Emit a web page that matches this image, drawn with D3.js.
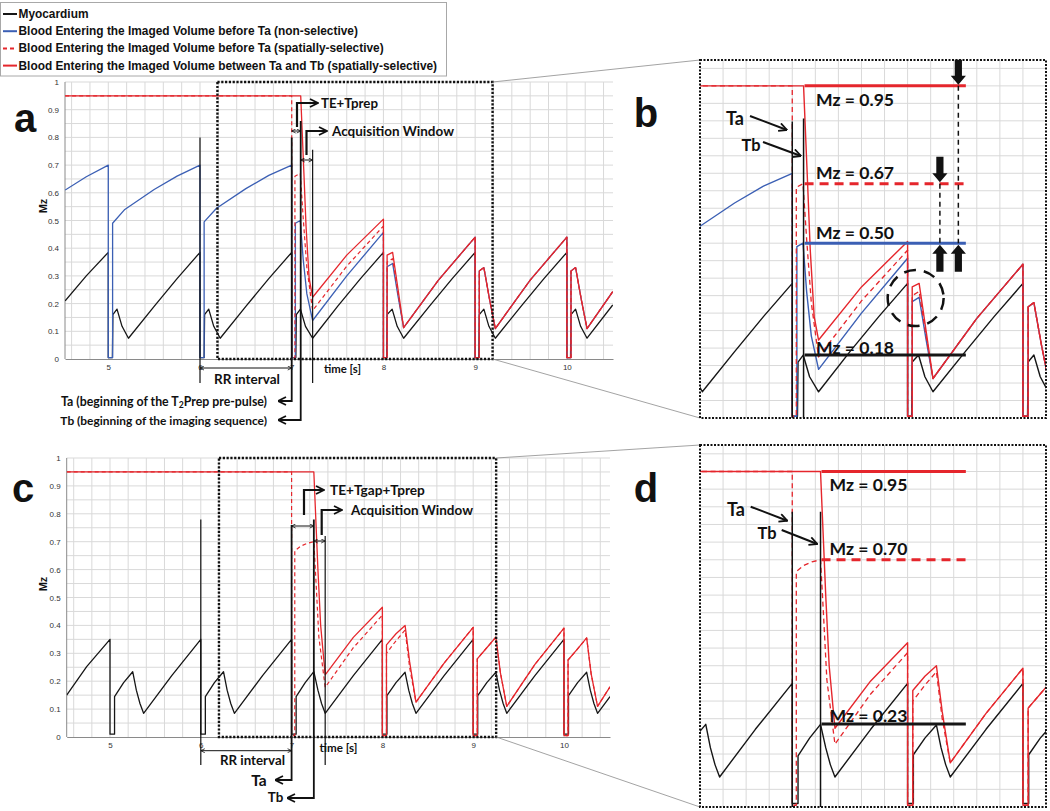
<!DOCTYPE html>
<html><head><meta charset="utf-8">
<script src="https://cdn.jsdelivr.net/npm/d3@7"></script>
<style>body{margin:0;background:#fff}svg{display:block}</style>
</head><body>
<svg id="chart" width="1050" height="811"></svg>
<script>
// ================= DATA =================
const legendLabels = [
  'Myocardium',
  'Blood Entering the Imaged Volume before Ta (non-selective)',
  'Blood Entering the Imaged Volume before Ta (spatially-selective)',
  'Blood Entering the Imaged Volume between Ta and Tb (spatially-selective)'
];
const yTickValues = [0,0.1,0.2,0.3,0.4,0.5,0.6,0.7,0.8,0.9,1];
const xTickValues = [5,6,7,8,9,10];

// ---- panel a (T2Prep, no gap) : [time s, Mz]
const aMyocardium = [
 [4.53,0.21],[4.76,0.30],[5.0,0.385],[5.0,0.005],[5.045,0.005],[5.05,0.16],[5.095,0.18],[5.15,0.118],[5.22,0.075],[5.5,0.19],[5.75,0.29],[6.0,0.385],
 [6.0,0.005],[6.045,0.005],[6.05,0.16],[6.095,0.18],[6.15,0.118],[6.22,0.075],[6.5,0.19],[6.75,0.29],[7.0,0.385],
 [7.0,0.005],[7.045,0.005],[7.05,0.16],[7.095,0.18],[7.15,0.118],[7.228,0.075],[7.5,0.19],[7.75,0.29],[8.0,0.385],
 [8.0,0.005],[8.035,0.005],[8.04,0.16],[8.095,0.18],[8.15,0.118],[8.22,0.075],[8.5,0.19],[8.75,0.29],[9.0,0.385],
 [9.0,0.005],[9.04,0.005],[9.045,0.16],[9.095,0.18],[9.15,0.118],[9.22,0.075],[9.5,0.19],[9.75,0.29],[10.0,0.385],
 [10.0,0.005],[10.04,0.005],[10.045,0.16],[10.095,0.18],[10.15,0.118],[10.22,0.075],[10.5,0.195]
];
const aBloodLate = [
 [8.6,0.285],[9.0,0.44],[9.0,0.005],[9.045,0.005],[9.045,0.318],[9.095,0.33],[9.16,0.21],[9.22,0.11],[9.6,0.285],[10.0,0.44],
 [10.0,0.005],[10.045,0.005],[10.045,0.318],[10.095,0.33],[10.16,0.21],[10.22,0.11],[10.5,0.243]
];
const aBloodNonSel = [
 [4.53,0.61],[4.76,0.658],[5.0,0.70],[5.0,0.005],[5.047,0.005],[5.047,0.49],[5.18,0.54],[5.5,0.612],[5.75,0.66],[6.0,0.70],
 [6.0,0.005],[6.045,0.005],[6.045,0.495],[6.18,0.544],[6.5,0.615],[6.75,0.663],[7.0,0.70],
 [7.0,0.005],[7.04,0.005],[7.04,0.49],[7.093,0.50],[7.125,0.36],[7.165,0.235],[7.228,0.139],[7.6,0.30],[8.0,0.457],
 [8.0,0.005],[8.04,0.005],[8.04,0.333],[8.1,0.345],[8.16,0.225],[8.22,0.113]
];
const aBloodSelBefore = [
 [4.53,0.95],[7.0,0.95],[7.0,0.005],[7.035,0.005],[7.035,0.66],[7.093,0.67],[7.125,0.51],[7.165,0.33],[7.228,0.175],[7.6,0.335],[8.0,0.48],
 [8.0,0.005],[8.04,0.005],[8.04,0.35],[8.1,0.362],[8.16,0.235],[8.22,0.113]
];
const aBloodSelBetween = [
 [4.53,0.95],[7.098,0.95],[7.133,0.67],[7.156,0.48],[7.19,0.29],[7.228,0.223],[7.6,0.375],[8.0,0.505],
 [8.0,0.005],[8.04,0.005],[8.04,0.375],[8.1,0.385],[8.16,0.25],[8.22,0.113]
];
// events: RR start, Ta, Tb, end of acquisition
const aEventTimes = [6.0, 7.0, 7.098, 7.228];
const aEventTops  = [0.80, 0.80, 0.83, 0.755];
const bEventTops  = [0.848, 0.857];
const aZoomWindow = [6.19, 9.19];
const bLevels = [0.95, 0.67, 0.50, 0.18];
const bLevelLabels = ['Mz = 0.95','Mz = 0.67','Mz = 0.50','Mz = 0.18'];
const bLevelEnd = 8.505;
const bArrowTimes = [8.28, 8.44];
const bCircle = [8.07, 0.343];

// ---- panel c (T2Prep with gap)
const cMyocardium = [
 [4.523,0.15],[4.743,0.252],[5.0,0.35],[5.0,0.01],[5.05,0.01],[5.05,0.145],[5.15,0.195],[5.25,0.234],[5.29,0.168],[5.33,0.12],[5.37,0.085],[5.68,0.22],[6.0,0.35],
 [6.0,0.01],[6.05,0.01],[6.05,0.145],[6.15,0.195],[6.25,0.234],[6.29,0.168],[6.33,0.12],[6.37,0.085],[6.68,0.22],[7.0,0.35],
 [7.0,0.01],[7.05,0.01],[7.05,0.145],[7.15,0.195],[7.245,0.234],[7.29,0.168],[7.33,0.12],[7.37,0.085],[7.68,0.22],[8.0,0.35],
 [8.0,0.01],[8.05,0.01],[8.05,0.148],[8.15,0.195],[8.25,0.232],[8.29,0.168],[8.33,0.12],[8.37,0.085],[8.68,0.22],[9.0,0.35],
 [9.0,0.01],[9.05,0.01],[9.05,0.148],[9.15,0.195],[9.25,0.232],[9.29,0.168],[9.33,0.12],[9.37,0.085],[9.68,0.22],[10.0,0.35],
 [10.0,0.01],[10.05,0.01],[10.05,0.148],[10.15,0.195],[10.25,0.232],[10.29,0.168],[10.33,0.12],[10.37,0.085],[10.507,0.145]
];
const cBloodLate = [
 [8.68,0.265],[9.0,0.393],[9.0,0.005],[9.045,0.005],[9.045,0.28],[9.15,0.32],[9.25,0.358],[9.30,0.23],[9.37,0.11],[9.68,0.26],[10.0,0.39],
 [10.0,0.005],[10.045,0.005],[10.045,0.276],[10.15,0.316],[10.25,0.355],[10.30,0.225],[10.37,0.11],[10.507,0.18]
];
const cBloodSelBefore = [
 [4.523,0.95],[7.0,0.95],[7.0,0.005],[7.035,0.005],[7.035,0.667],[7.1,0.684],[7.17,0.694],[7.245,0.70],[7.27,0.55],[7.30,0.36],[7.37,0.178],[7.68,0.32],[8.0,0.437],
 [8.0,0.005],[8.045,0.005],[8.045,0.30],[8.15,0.345],[8.25,0.383],[8.30,0.25],[8.37,0.125]
];
const cBloodSelBetween = [
 [4.523,0.95],[7.245,0.95],[7.29,0.60],[7.32,0.40],[7.37,0.223],[7.68,0.357],[8.0,0.465],
 [8.0,0.005],[8.045,0.005],[8.045,0.33],[8.15,0.37],[8.25,0.40],[8.30,0.27],[8.37,0.125]
];
const cEventTimes = [6.0, 7.0, 7.245, 7.37];
const cEventTops  = [0.78, 0.76, 0.78, 0.72];
const dEventTops  = [0.836, 0.836];
const cZoomWindow = [6.2, 9.253];
const dLevels = [0.95, 0.70, 0.235];
const dLevelLabels = ['Mz = 0.95','Mz = 0.70','Mz = 0.23'];
const dLevelEnd = 8.505;

// ================= LAYOUT / STYLE =================
const COL = {myo:'#161616', blue:'#3b5fb4', red:'#e5262c', grid:'#d9d9d9'};
const FA = "'Liberation Sans', Arial, sans-serif";
const FB = "Lato, 'Liberation Sans', sans-serif";
const PA = {x0:65, x1:613, y0:359, y1:82, xdom:[4.528,10.503], ydom:[0,1]};
const PC = {x0:66.7, x1:610, y0:737, y1:458, xdom:[4.523,10.507], ydom:[0,1]};
const PB = {x0:700, x1:1046, y0:418, y1:60, xdom:[6.2,9.2], ydom:[0,1.024]};
const PD = {x0:700, x1:1046, y0:807, y1:445, xdom:[6.2,9.2], ydom:[0,1.025]};

const svg = d3.select('#chart');
const defs = svg.append('defs');
function mk(id, size, sw){
  defs.append('marker').attr('id',id).attr('viewBox','0 0 10 10').attr('refX',9.5).attr('refY',5)
    .attr('markerUnits','userSpaceOnUse').attr('markerWidth',size).attr('markerHeight',size)
    .attr('orient','auto-start-reverse')
    .append('path').attr('d','M1.5,1 L9.5,5 L1.5,9').attr('fill','none').attr('stroke','#111').attr('stroke-width',sw);
}
mk('chS',5,1.6); mk('chL',10,1.8);

const scalesOf = P => ({x:d3.scaleLinear().domain(P.xdom).range([P.x0,P.x1]),
                        y:d3.scaleLinear().domain(P.ydom).range([P.y0,P.y1])});
function clip(id,P){ defs.append('clipPath').attr('id',id).append('rect')
  .attr('x',P.x0).attr('y',Math.min(P.y0,P.y1)-1).attr('width',P.x1-P.x0).attr('height',Math.abs(P.y0-P.y1)+1); }

function fit(t, w){ t.attr('font-size',20); const L=t.node().getComputedTextLength(); t.attr('font-size',20*w/L); return t; }
function txt(g,str,x,y,w,anchor,font){
  const t=g.append('text').attr('x',x).attr('y',y).attr('text-anchor',anchor||'start')
    .attr('dominant-baseline','central').attr('font-family',font||FB).attr('font-weight',700).attr('fill','#111').text(str);
  return fit(t,w);
}

function grid(g,P,s,xg,yTop){
  g.append('g').selectAll('line').data(xg).join('line')
    .attr('x1',d=>s.x(d)).attr('x2',d=>s.x(d)).attr('y1',P.y0).attr('y2',yTop)
    .attr('stroke',COL.grid).attr('stroke-width',1);
  g.append('g').selectAll('line').data(d3.range(1,21).map(i=>i*0.05)).join('line')
    .attr('x1',P.x0).attr('x2',P.x1).attr('y1',d=>s.y(d)).attr('y2',d=>s.y(d))
    .attr('stroke',COL.grid).attr('stroke-width',1);
}
function series(g,s,data,color,dash,w){
  g.append('path').datum(data).attr('d',d3.line().x(d=>s.x(d[0])).y(d=>s.y(d[1])))
    .attr('fill','none').attr('stroke',color).attr('stroke-width',w).attr('stroke-dasharray',dash||null)
    .attr('stroke-linejoin','round');
}
function vline(g,x,y1,y2,w){ g.append('line').attr('x1',x).attr('x2',x).attr('y1',y1).attr('y2',y2).attr('stroke','#111').attr('stroke-width',w||1.2); }
function dbl(g,x1,x2,y){ g.append('line').attr('x1',x1).attr('x2',x2).attr('y1',y).attr('y2',y).attr('stroke','#111').attr('stroke-width',1)
  .attr('marker-start','url(#chS)').attr('marker-end','url(#chS)'); }
function bent(g,x,yb,yt,xe){ g.append('path').attr('d',`M${x},${yb}V${yt}H${xe}`).attr('fill','none').attr('stroke','#111').attr('stroke-width',2.2).attr('marker-end','url(#chL)'); }
function elbow(g,x,yTop,yB,xe){ g.append('path').attr('d',`M${x},${yTop}V${yB}H${xe}`).attr('fill','none').attr('stroke','#111').attr('stroke-width',1.8).attr('marker-end','url(#chL)'); }
function arrowLine(g,x1,y1,x2,y2){ g.append('line').attr('x1',x1).attr('y1',y1).attr('x2',x2).attr('y2',y2).attr('stroke','#111').attr('stroke-width',2).attr('marker-end','url(#chL)'); }
function block(g,x,tip,dir,L){
  const hl=9, sw=3.6, hw=7.6, base=tip-dir*L, neck=tip-dir*hl;
  const pts=[[x-sw,base],[x+sw,base],[x+sw,neck],[x+hw,neck],[x,tip],[x-hw,neck],[x-sw,neck]];
  g.append('polygon').attr('points',pts.map(p=>p.join(',')).join(' ')).attr('fill','#111');
}
const yFmt = d => d===0?'0':(d===1?'1':d3.format('.1f')(d));

// ---------- main panel ----------
function mainPanel(P, id, data, events, tops, zw, letter, letterPos, mzPos){
  const s=scalesOf(P), g=svg.append('g');
  clip('clip'+id,P);
  grid(g,P,s,d3.range(23,53).map(i=>i*0.2).filter(v=>v>P.xdom[0]&&v<P.xdom[1]), s.y(1));
  const gy=g.append('g').attr('transform',`translate(${P.x0},0)`)
    .call(d3.axisLeft(s.y).tickValues(yTickValues).tickSize(0).tickSizeOuter(0).tickPadding(6).tickFormat(yFmt));
  const gx=g.append('g').attr('transform',`translate(0,${P.y0})`)
    .call(d3.axisBottom(s.x).tickValues(xTickValues).tickSize(0).tickSizeOuter(0).tickPadding(5).tickFormat(d3.format('d')));
  [gy,gx].forEach(a=>{a.select('.domain').attr('stroke','#8a8a8a').attr('stroke-width',1);
    a.selectAll('text').attr('font-family',FA).attr('font-size',8).attr('fill','#333');});
  gy.select('.domain').attr('d',`M0,${P.y0}V${s.y(1)}`);
  const dg=g.append('g').attr('clip-path',`url(#clip${id})`);
  series(dg,s,data.myo,COL.myo,null,1.3);
  if(data.blue) series(dg,s,data.blue,COL.blue,null,1.3);
  series(dg,s,data.dash,COL.red,'4,3',1.2);
  series(dg,s,data.solid,COL.red,null,1.3);
  // dotted zoom window
  g.append('rect').attr('x',s.x(zw[0])).attr('y',s.y(1)).attr('width',s.x(zw[1])-s.x(zw[0])).attr('height',P.y0-s.y(1))
    .attr('fill','none').attr('stroke','#111').attr('stroke-width',2.4).attr('stroke-dasharray','2.2,1.6');
  g.append('text').attr('x',letterPos[0]).attr('y',letterPos[1]).attr('text-anchor','middle').attr('font-family',FA)
    .attr('font-weight',700).attr('font-size',40).attr('fill','#111').text(letter);
  g.append('text').attr('transform',`translate(${mzPos[0]},${mzPos[1]}) rotate(-90)`).attr('text-anchor','middle')
    .attr('dominant-baseline','central').attr('font-family',FA).attr('font-weight',700).attr('font-size',11).attr('fill','#111').text('Mz');
  const ev = events.map((t,i)=>({x:s.x(t), top:s.y(tops[i])}));
  return {s,g,ev};
}

// ---------- zoom panel ----------
function zoomPanel(P,id,data,evTimes,evTops,levels,labels,lvlEnd,labelDy,labelDx,letter,letterPos){
  const s=scalesOf(P), g=svg.append('g');
  clip('clip'+id,P);
  grid(g,P,s,d3.range(31,47).map(i=>i*0.2).filter(v=>v>P.xdom[0]+0.01&&v<P.xdom[1]-0.01), P.y1);
  const dg=g.append('g').attr('clip-path',`url(#clip${id})`);
  series(dg,s,data.myo,COL.myo,null,1.4);
  if(data.blue) series(dg,s,data.blue,COL.blue,null,1.4);
  series(dg,s,data.dash,COL.red,'5,3.5',1.3);
  series(dg,s,data.solid,COL.red,null,1.4);
  evTimes.forEach((t,i)=>vline(dg,s.x(t),s.y(evTops[i]),P.y0,1.5));
  const styles = levels.length===4
    ? [[COL.red,null],[COL.red,'9,6'],[COL.blue,null],[COL.myo,null]]
    : [[COL.red,null],[COL.red,'9,6'],[COL.myo,null]];
  const tb = evTimes[1];
  levels.forEach((v,i)=>{
    dg.append('line').attr('x1',s.x(tb)+1).attr('x2',s.x(lvlEnd)).attr('y1',s.y(v)).attr('y2',s.y(v))
      .attr('stroke',styles[i][0]).attr('stroke-width',3).attr('stroke-dasharray',styles[i][1]);
    txt(g,labels[i],s.x(tb)+labelDx,s.y(v)+labelDy[i],78,'start',FB);
  });
  g.append('rect').attr('x',P.x0).attr('y',P.y1).attr('width',P.x1-P.x0).attr('height',P.y0-P.y1)
    .attr('fill','none').attr('stroke','#111').attr('stroke-width',2).attr('stroke-dasharray','2,1.5');
  g.append('text').attr('x',letterPos[0]).attr('y',letterPos[1]).attr('text-anchor','middle').attr('font-family',FA)
    .attr('font-weight',700).attr('font-size',40).attr('fill','#111').text(letter);
  return {s,g};
}

// ---------- legend ----------
const lg = svg.append('g');
lg.append('rect').attr('x',0.5).attr('y',2.5).attr('width',446).attr('height',73.5).attr('fill','#fff').attr('stroke','#a8a8a8');
const legStyles=[[COL.myo,null],[COL.blue,null],[COL.red,'4,3'],[COL.red,null]];
const legTexts = legendLabels.map((l,i)=>{
  const y=14+i*17.2;
  lg.append('line').attr('x1',3).attr('x2',17).attr('y1',y).attr('y2',y).attr('stroke',legStyles[i][0]).attr('stroke-width',2).attr('stroke-dasharray',legStyles[i][1]);
  return lg.append('text').attr('x',18.5).attr('y',y).attr('dominant-baseline','central').attr('font-family',FA).attr('font-weight',700).attr('fill','#111').text(l);
});
fit(legTexts[3],419);
const legFs = legTexts[3].attr('font-size');
legTexts.forEach(t=>t.attr('font-size',legFs));

// ---------- panel a ----------
const A = mainPanel(PA,'A',{myo:aMyocardium,blue:aBloodNonSel.concat(aBloodLate),dash:aBloodSelBefore.concat(aBloodLate),solid:aBloodSelBetween.concat(aBloodLate)},
  aEventTimes,aEventTops,aZoomWindow,'a',[25,132],[43,206]);
{
  const g=A.g, e=A.ev;
  vline(g,e[0].x,e[0].top,383);        // RR start
  vline(g,e[3].x,e[3].top,383);        // end of acquisition
  elbow(g,e[1].x,e[1].top,401,278);    // Ta
  elbow(g,e[2].x,e[2].top-8,420,278);  // Tb
  dbl(g,e[1].x,e[2].x,131);
  dbl(g,e[2].x,e[3].x,160);
  dbl(g,e[0].x,e[1].x,368);
  bent(g,297,127,103,318); bent(g,306.5,155,131,327);
  txt(g,'TE+Tprep',321,102.5,57);
  txt(g,'Acquisition Window',332,130.5,122);
  txt(g,'time [s]',324,368.3,37);
  txt(g,'RR interval',247,379,66,'middle');
  const t1=g.append('text').attr('x',267).attr('y',401).attr('text-anchor','end').attr('dominant-baseline','central')
    .attr('font-family',FB).attr('font-weight',700).attr('fill','#111');
  t1.append('tspan').text('Ta (beginning of the T');
  t1.append('tspan').style('font-size','70%').attr('dy',3).text('2');
  t1.append('tspan').attr('dy',-3).text('Prep pre-pulse)');
  fit(t1,206);
  txt(g,'Tb (beginning of the imaging sequence)',267,420,207,'end');
  // connectors
  const xr=A.s.x(aZoomWindow[1]);
  g.append('line').attr('x1',xr).attr('y1',PA.y1).attr('x2',PB.x0).attr('y2',PB.y1).attr('stroke','#8c8c8c').attr('stroke-width',0.8);
  g.append('line').attr('x1',xr).attr('y1',PA.y0).attr('x2',PB.x0).attr('y2',PB.y0).attr('stroke','#8c8c8c').attr('stroke-width',0.8);
}

// ---------- panel b ----------
const B = zoomPanel(PB,'B',{myo:aMyocardium,blue:aBloodNonSel.concat(aBloodLate),dash:aBloodSelBefore.concat(aBloodLate),solid:aBloodSelBetween.concat(aBloodLate)},
  [aEventTimes[1],aEventTimes[2]],bEventTops,bLevels,bLevelLabels,bLevelEnd,[13.3,-11.6,-11,-8],12.5,'b',[646,127]);
{
  const g=B.g, s=B.s;
  const x1=s.x(bArrowTimes[0]), x2=s.x(bArrowTimes[1]);
  const d1=[5,4];
  g.append('line').attr('x1',x2).attr('x2',x2).attr('y1',s.y(bLevels[0])).attr('y2',s.y(bLevels[2])).attr('stroke','#111').attr('stroke-width',1.5).attr('stroke-dasharray',d1);
  g.append('line').attr('x1',x1).attr('x2',x1).attr('y1',s.y(bLevels[1])).attr('y2',s.y(bLevels[2])).attr('stroke','#111').attr('stroke-width',1.5).attr('stroke-dasharray',d1);
  block(g,x2,s.y(bLevels[0])-1,1,25);
  block(g,x1,s.y(bLevels[1])-1.5,1,25.5);
  block(g,x1,s.y(bLevels[2])+1.6,-1,27);
  block(g,x2,s.y(bLevels[2])+1.6,-1,27);
  g.append('circle').attr('cx',s.x(bCircle[0])).attr('cy',s.y(bCircle[1])).attr('r',28)
    .attr('fill','none').attr('stroke','#111').attr('stroke-width',2.5).attr('stroke-dasharray','12,8');
  txt(g,'Ta',735,118.3,18,'middle');
  txt(g,'Tb',751,144,19,'middle');
  arrowLine(g,750,116,787,130);
  arrowLine(g,763,142,801,156);
}

// ---------- panel c ----------
const C = mainPanel(PC,'C',{myo:cMyocardium,dash:cBloodSelBefore.concat(cBloodLate),solid:cBloodSelBetween.concat(cBloodLate)},
  cEventTimes,cEventTops,cZoomWindow,'c',[23,502],[43,584]);
{
  const g=C.g, e=C.ev;
  vline(g,e[0].x,e[0].top,765);
  vline(g,e[3].x,e[3].top,765);
  elbow(g,e[1].x,e[1].top,780,275);
  elbow(g,e[2].x,e[2].top,798,287);
  dbl(g,e[1].x,e[2].x,526);
  dbl(g,e[2].x,e[3].x,541);
  dbl(g,e[0].x,e[1].x,750.7);
  bent(g,304,515,490,324); bent(g,321.7,535,510,342);
  txt(g,'TE+Tgap+Tprep',330,490,95);
  txt(g,'Acquisition Window',351,509.5,122);
  txt(g,'time [s]',319.5,747.3,38);
  txt(g,'RR interval',252.5,760,65,'middle');
  txt(g,'Ta',266.7,780,15.5,'end');
  txt(g,'Tb',283.3,797,15.5,'end');
  const xr=C.s.x(cZoomWindow[1]);
  g.append('line').attr('x1',xr).attr('y1',PC.y1).attr('x2',PD.x0).attr('y2',PD.y1).attr('stroke','#8c8c8c').attr('stroke-width',0.8);
  g.append('line').attr('x1',xr).attr('y1',PC.y0).attr('x2',PD.x0).attr('y2',PD.y0).attr('stroke','#8c8c8c').attr('stroke-width',0.8);
}

// ---------- panel d ----------
const D = zoomPanel(PD,'D',{myo:cMyocardium,dash:cBloodSelBefore.concat(cBloodLate),solid:cBloodSelBetween.concat(cBloodLate)},
  [cEventTimes[1],cEventTimes[2]],dEventTops,dLevels,dLevelLabels,dLevelEnd,[13.3,-11,-9],9,'d',[646,502]);
{
  const g=D.g;
  txt(g,'Ta',736,509.3,18,'middle');
  txt(g,'Tb',767,532.7,19,'middle');
  arrowLine(g,750.7,506.7,787.3,520.7);
  arrowLine(g,781.7,530,817.3,544);
}
</script>
</body></html>
